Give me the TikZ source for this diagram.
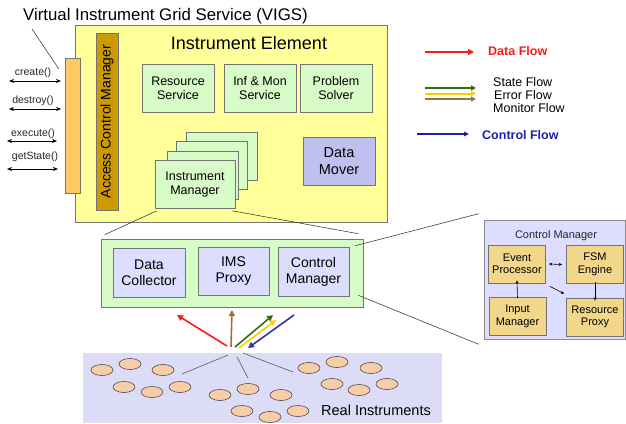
\documentclass[tikz,border=0pt]{standalone}
\usepackage{fontspec}
\setmainfont{Liberation Sans}
\usetikzlibrary{arrows.meta,shapes.geometric}
\definecolor{ieyellow}{HTML}{FFFF99}
\definecolor{ifaceorange}{HTML}{FFC966}
\definecolor{acmgold}{HTML}{CC9900}
\definecolor{palegreen}{HTML}{D8FCC8}
\definecolor{lav}{HTML}{C0C0F0}
\definecolor{palelav}{HTML}{DDDDFF}
\definecolor{tanbox}{HTML}{F2D68A}
\definecolor{groundlav}{HTML}{DCDCF6}
\definecolor{instr}{HTML}{F6CDA8}
\definecolor{flowred}{HTML}{FF1A1A}
\definecolor{flowgreen}{HTML}{336B12}
\definecolor{flowyellow}{HTML}{FFCC00}
\definecolor{flowbrown}{HTML}{A0703A}
\definecolor{flowblue}{HTML}{33339A}
\definecolor{ctrlblue}{HTML}{1F1FA8}
\begin{document}
\begin{tikzpicture}[x=1pt,y=-1pt,
  box/.style={draw=black!55, line width=0.6pt, align=center, inner sep=0pt,
    font=\fontsize{12.5}{14}\selectfont},
  bigtxt/.style={font=\fontsize{14}{16}\selectfont},
  panelbox/.style={box, fill=tanbox, minimum width=57pt, minimum height=38pt,
    font=\fontsize{11}{12.5}\selectfont},
  thinline/.style={draw=black!75, line width=0.6pt},
  dblarrow/.style={line width=0.7pt, {Stealth[length=5pt,width=4pt]}-{Stealth[length=5pt,width=4pt]}},
  smallarrow/.style={line width=0.6pt, -{Stealth[length=3.5pt,width=3pt]}},
  flow/.style={line width=1.8pt, -{Triangle[length=6pt,width=6pt]}},
  instrument/.style={ellipse, draw=black!70, line width=0.6pt, fill=instr,
    minimum width=22pt, minimum height=11pt, inner sep=0pt},
  lbl/.style={font=\fontsize{10.5}{12}\selectfont, text=black!85}
]
\useasboundingbox (0,0) rectangle (626,423);

% title
\node[anchor=west, font=\fontsize{16.8}{18}\selectfont, inner sep=0pt] (title) at (23,16) {Virtual Instrument Grid Service (VIGS)};

% instrument element
\node[box, fill=ieyellow, minimum width=312pt, minimum height=197pt] (ie) at (231,123.5) {};
\node[font=\fontsize{18}{20}\selectfont] (ietitle) at (249,43) {Instrument Element};

% interface bar
\node[box, fill=ifaceorange, minimum width=15pt, minimum height=135pt] (iface) at (72.5,125.5) {};
\draw[thinline] ([shift={(9,5)}]title.south west) -- ([shift={(-6,11)}]iface.north west);

% access control manager
\node[box, fill=acmgold, minimum width=22pt, minimum height=177pt] (acm) at (107,121.5) {};
\node[rotate=90, font=\fontsize{14}{16}\selectfont] (acmtext) at (acm.center) {Access Control Manager};

% upper boxes
\node[box, fill=palegreen, minimum width=72pt, minimum height=48pt] (rs) at (178,88) {Resource\\Service};
\node[box, fill=palegreen, minimum width=72pt, minimum height=48pt] (infmon) at (260,88) {Inf \& Mon\\Service};
\node[box, fill=palegreen, minimum width=72pt, minimum height=48pt] (ps) at (336,88) {Problem\\Solver};
\node[box, fill=lav, minimum width=72pt, minimum height=48pt, font=\fontsize{14.5}{17}\selectfont] (dm) at (339,161) {Data\\Mover};

% instrument manager stack
\node[box, fill=palegreen, minimum width=71pt, minimum height=48pt] (im4) at (222,156) {};
\node[box, fill=palegreen, minimum width=71pt, minimum height=48pt] (im3) at (212,165.5) {};
\node[box, fill=palegreen, minimum width=71pt, minimum height=48pt] (im2) at (203,175) {};
\node[box, fill=palegreen, minimum width=80pt, minimum height=48pt] (im) at (195,184.5) {Instrument\\Manager};

% lower green box
\node[box, fill=palegreen, minimum width=262pt, minimum height=68pt] (lower) at (232,273) {};
\node[box, fill=palelav, minimum width=72pt, minimum height=49pt, bigtxt] (dc) at (149,272.5) {Data\\Collector};
\node[box, fill=palelav, minimum width=71pt, minimum height=48pt, bigtxt] (imsp) at (233.5,271) {IMS\\Proxy};
\node[box, fill=palelav, minimum width=71pt, minimum height=49pt, bigtxt] (cm) at (313.5,271.5) {Control\\Manager};

\draw[thinline] ([shift={(2,2)}]im.south west) -- ([shift={(4,-4)}]lower.north west);
\draw[thinline] ([shift={(-3,2)}]im.south east) -- ([shift={(-5,-5)}]lower.north east);

% control manager panel
\node[box, draw=black!45, fill=palelav, minimum width=141pt, minimum height=119pt] (panel) at (554.5,279.5) {};
\node[font=\fontsize{11}{12.5}\selectfont, text=black!85] (paneltitle) at (556,235.5) {Control Manager};
\node[panelbox] (ep) at (517,264) {Event\\Processor};
\node[panelbox] (fsm) at (595,264.5) {FSM\\Engine};
\node[panelbox] (inm) at (517.5,316.5) {Input\\Manager};
\node[panelbox] (rp) at (595,317) {Resource\\Proxy};
\draw[line width=0.6pt, {Stealth[length=3.5pt,width=3pt]}-{Stealth[length=3.5pt,width=3pt]}] ([xshift=3pt]ep.east) -- ([xshift=-4pt]fsm.west);
\draw[smallarrow] ([yshift=-1pt]inm.north) -- ([yshift=3pt]ep.south);
\draw[smallarrow] ([shift={(4,3)}]ep.south east) -- ([shift={(-2,-4)}]rp.north west);
\draw[smallarrow] ([yshift=2pt]fsm.south) -- ([yshift=-3pt]rp.north);

\draw[thinline] ([shift={(-8,7)}]lower.north east) -- ([shift={(-5,-6)}]panel.north west);
\draw[thinline] ([shift={(-5,-12)}]lower.south east) -- ([shift={(-5,5)}]panel.south west);

% left operations
\coordinate (c1l) at (9,81);  \coordinate (c1r) at (61,81);
\coordinate (c2l) at (9,109); \coordinate (c2r) at (61,109);
\coordinate (c3l) at (7,141); \coordinate (c3r) at (57,141);
\coordinate (c4l) at (7,169); \coordinate (c4r) at (58,169);
\draw[dblarrow] (c1l) -- (c1r);
\draw[dblarrow] (c2l) -- (c2r);
\draw[dblarrow] (c3l) -- (c3r);
\draw[dblarrow] (c4l) -- (c4r);
\node[lbl] (create) at (33,73) {create()};
\node[lbl] (destroy) at (33,101) {destroy()};
\node[lbl] (execute) at (33,134) {execute()};
\node[lbl] (getstate) at (35,157) {getState()};

% legend
\coordinate (lr1) at (425,52);  \coordinate (lr2) at (474,52);
\coordinate (lg1) at (425,88);  \coordinate (lg2) at (476,88);
\coordinate (ly1) at (425,93.5);  \coordinate (ly2) at (476,93.5);
\coordinate (lb1) at (425,99);  \coordinate (lb2) at (476,99);
\coordinate (lc1) at (417,134); \coordinate (lc2) at (469,134);
\draw[flow, flowred, line width=2.2pt] (lr1) -- (lr2);
\draw[flowgreen, line width=2pt, -{Triangle[length=5pt,width=5pt]}] (lg1) -- (lg2);
\draw[flowyellow, line width=2pt, -{Triangle[length=5pt,width=5pt]}] (ly1) -- (ly2);
\draw[flowbrown, line width=2pt, -{Triangle[length=5pt,width=5pt]}] (lb1) -- (lb2);
\draw[ctrlblue, line width=1.4pt, -{Triangle[length=5pt,width=4.5pt]}] (lc1) -- (lc2);
\node[anchor=west, inner sep=0pt, text=flowred, font=\bfseries\fontsize{12.5}{14}\selectfont] (ldata) at (488,51) {Data Flow};
\node[anchor=west, inner sep=0pt, font=\fontsize{12.5}{14}\selectfont] (lstate) at (493,82) {State Flow};
\node[anchor=west, inner sep=0pt, font=\fontsize{12.5}{14}\selectfont] (lerror) at (494,95) {Error Flow};
\node[anchor=west, inner sep=0pt, font=\fontsize{12.5}{14}\selectfont] (lmon) at (493,108) {Monitor Flow};
\node[anchor=west, inner sep=0pt, text=ctrlblue, font=\bfseries\fontsize{12.5}{14}\selectfont] (lctrl) at (482,135) {Control Flow};

% ground region with instruments
\fill[groundlav] (83,353) rectangle (442,423);
\node[font=\fontsize{14.5}{16}\selectfont] (real) at (376,410) {Real Instruments};
\foreach \i/\x/\y in {1/102/370, 2/130/364, 3/163/370, 4/124/387, 5/152/392, 6/180/387,
  7/220/395, 8/248/389, 9/281/395, 10/242/411, 11/270/417, 12/298/411,
  13/309/368, 14/337/362, 15/371/368, 16/332/384, 17/359/390, 18/387/384}
  \node[instrument] (ins\i) at (\x,\y) {};

% fan lines
\coordinate (fa1) at (228,355); \coordinate (fb1) at (182,374);
\coordinate (fa2) at (237,357); \coordinate (fb2) at (248,378);
\coordinate (fa3) at (243,353); \coordinate (fb3) at (293,372);
\draw[draw=black!65, line width=0.6pt] (fa1) -- (fb1);
\draw[draw=black!65, line width=0.6pt] (fa2) -- (fb2);
\draw[draw=black!65, line width=0.6pt] (fa3) -- (fb3);

% flow arrows
\coordinate (ra) at (227,346); \coordinate (rb) at (177,315);
\coordinate (ba) at (231,347); \coordinate (bb) at (232,310);
\coordinate (ga) at (235,347); \coordinate (gb) at (273,315);
\coordinate (ya) at (239,348); \coordinate (yb) at (276,320);
\coordinate (ua) at (294,315); \coordinate (ub) at (248,348);
\draw[flow, flowred, line width=1.6pt] (ra) -- (rb);
\draw[flow, flowbrown, line width=1.6pt] (ba) -- (bb);
\draw[flow, flowgreen, line width=1.6pt] (ga) -- (gb);
\draw[flow, flowyellow, line width=1.6pt] (ya) -- (yb);
\draw[flow, flowblue, line width=1.6pt] (ua) -- (ub);
\end{tikzpicture}
\end{document}
